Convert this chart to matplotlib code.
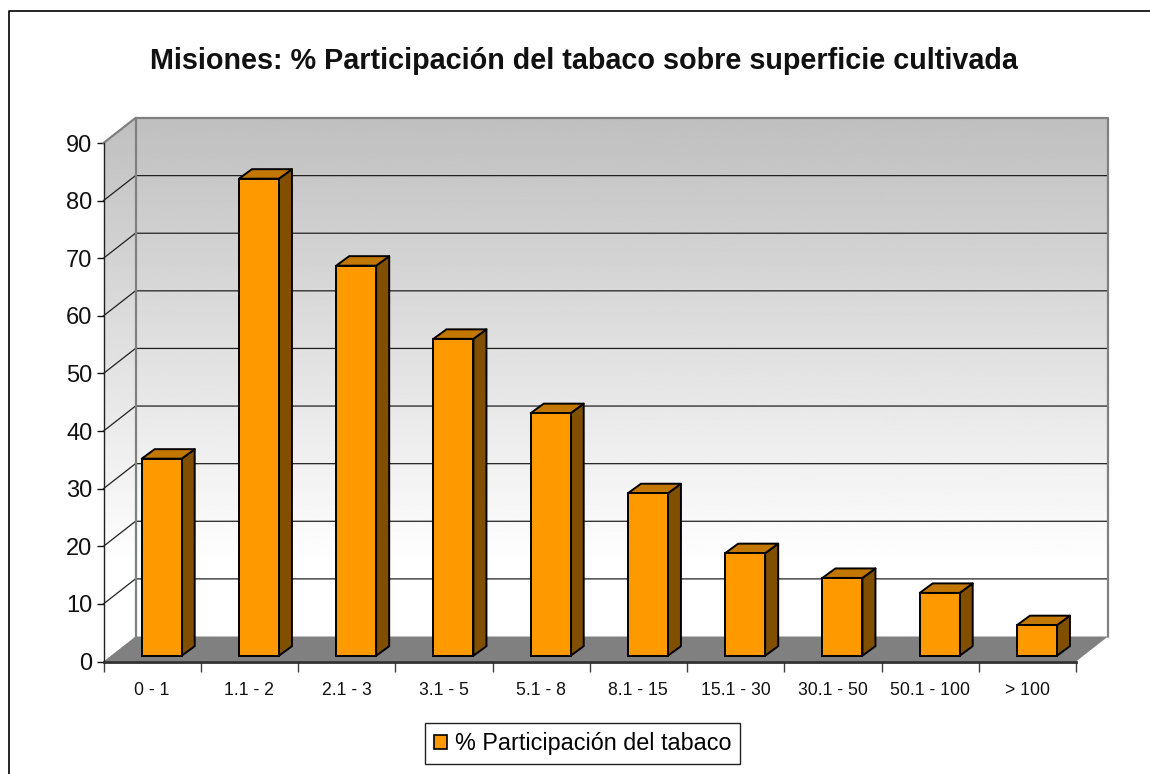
import numpy as np
import matplotlib
matplotlib.use("Agg")
import matplotlib.pyplot as plt
from matplotlib.lines import Line2D
from matplotlib.patches import Patch, Polygon

plt.rcParams['font.family'] = ['Liberation Sans', 'DejaVu Sans']

# datos
categorias = ["0 - 1", "1.1 - 2", "2.1 - 3", "3.1 - 5", "5.1 - 8", "8.1 - 15",
              "15.1 - 30", "30.1 - 50", "50.1 - 100", "> 100"]
participacion = [34.2, 82.8, 67.7, 55.0, 42.1, 28.2, 17.8, 13.5, 10.9, 5.3]
y_ticks = [0, 10, 20, 30, 40, 50, 60, 70, 80, 90]

titulo = "Misiones: % Participación del tabaco sobre superficie cultivada"
serie = "% Participación del tabaco"

W, H = 1150, 774
fig = plt.figure(figsize=(W / 100, H / 100), dpi=100)
fig.patch.set_facecolor("white")
ax = fig.add_axes([103.5 / W, (H - 661.5) / H, 972.5 / W, 518.5 / H])
ax.set_facecolor("none")

px_x = 10 / 972.5
px_y = 90 / 518.5

# profundidad de pared y de barras (efecto 3D)
wall_dx = 32 * px_x
wall_dy = 25 * px_y
bar_dx = 13 * px_x
bar_dy = 9.5 * px_y
bar_x0 = 38.2 * px_x
bar_w = 40 * px_x
bar_y0 = 5.8 * px_y

# fondo con degradado
top = 90 + wall_dy
g = np.clip(np.linspace(0, top, 256) / (top - wall_dy - 12), 0, 1).reshape(-1, 1)
g = 0.75 + 0.25 * g

back = ax.imshow(g, extent=[wall_dx, 10 + wall_dx, 0, top], cmap="gray", vmin=0, vmax=1,
                 aspect="auto", zorder=0)
back.set_clip_path(Polygon([(wall_dx, wall_dy), (10 + wall_dx, wall_dy), (10 + wall_dx, top), (wall_dx, top)],
                           transform=ax.transData))
back.set_clip_box(fig.bbox)
side = ax.imshow(g, extent=[0, wall_dx, 0, top], cmap="gray", vmin=0, vmax=1,
                 aspect="auto", zorder=0)
side.set_clip_path(Polygon([(0, 0), (wall_dx, wall_dy), (wall_dx, top), (0, 90)],
                           transform=ax.transData))
side.set_clip_box(fig.bbox)
ax.set_xlim(0, 10)
ax.set_ylim(0, 90)

# piso
ax.add_patch(Polygon([(0, 0), (10, 0), (10 + wall_dx, wall_dy), (wall_dx, wall_dy)],
                     facecolor="#808080", edgecolor="none", zorder=1, clip_on=False))

# lineas de grilla
for v in y_ticks[1:-1]:
    ax.plot([0, wall_dx, 10 + wall_dx], [v, v + wall_dy, v + wall_dy], color="#202020",
            lw=0.9, zorder=2, clip_on=False)

# bordes de la pared
ax.plot([0, wall_dx, 10 + wall_dx, 10 + wall_dx], [90, top, top, wall_dy], color="#808080",
        lw=1.6, zorder=2, clip_on=False)
ax.plot([wall_dx, wall_dx], [wall_dy, top], color="#808080", lw=1.6, zorder=2, clip_on=False)

# barras
for i, val in enumerate(participacion):
    x0 = i + bar_x0
    x1 = x0 + bar_w
    y1 = bar_y0 + val
    ax.add_patch(Polygon([(x1, bar_y0), (x1 + bar_dx, bar_y0 + bar_dy),
                          (x1 + bar_dx, y1 + bar_dy), (x1, y1)],
                         facecolor="#804F00", edgecolor="black", lw=1.4, zorder=3,
                         joinstyle="round", clip_on=False))
    ax.add_patch(Polygon([(x0, y1), (x1, y1), (x1 + bar_dx, y1 + bar_dy), (x0 + bar_dx, y1 + bar_dy)],
                         facecolor="#C27700", edgecolor="black", lw=1.4, zorder=3,
                         joinstyle="round", clip_on=False))
    ax.bar(x0, val, width=bar_w, bottom=bar_y0, align="edge", color="#FF9900",
           edgecolor="black", lw=1.4, zorder=4, clip_on=False)

# ejes
for s in ["top", "right"]:
    ax.spines[s].set_visible(False)
ax.spines["left"].set_linewidth(1.0)
ax.spines["left"].set_color("#202020")
ax.spines["bottom"].set_linewidth(2.0)
ax.spines["bottom"].set_color("#303030")
ax.spines["left"].set_zorder(5)
ax.spines["bottom"].set_zorder(5)

ax.set_yticks(y_ticks)
ax.tick_params(axis="y", labelsize=17, length=5, width=1.0, pad=3, colors="#111111")
ax.set_xticks(np.arange(11))
ax.set_xticklabels([])
ax.tick_params(axis="x", which="major", length=7, width=1.0, color="#404040")
ax.set_xticks(np.arange(10) + 0.5, minor=True)
ax.set_xticklabels(categorias, minor=True)
ax.tick_params(axis="x", which="minor", length=0, labelsize=12.7, pad=14.5, labelcolor="#111111")

fig.text(583.5 / W, 1 - 61 / H, titulo, fontsize=20.7, fontweight="bold", ha="center", va="center",
         color="#111111")

leg = fig.legend(handles=[Patch(facecolor="#FF9900", edgecolor="black", lw=1.2, label=serie)],
                 loc="center", bbox_to_anchor=(582.5 / W, 1 - 743.5 / H), fontsize=16.8,
                 fancybox=False, framealpha=1, edgecolor="#222222", handlelength=0.56,
                 handleheight=0.56, handletextpad=0.35, borderpad=0.39, borderaxespad=0)
leg.get_frame().set_linewidth(1.0)

# marco exterior
fig.add_artist(Line2D([8.5 / W, 8.5 / W, 1], [0, 1 - 11 / H, 1 - 11 / H], color="black", lw=1.2,
                      transform=fig.transFigure))

fig.savefig("out.png", dpi=100)
